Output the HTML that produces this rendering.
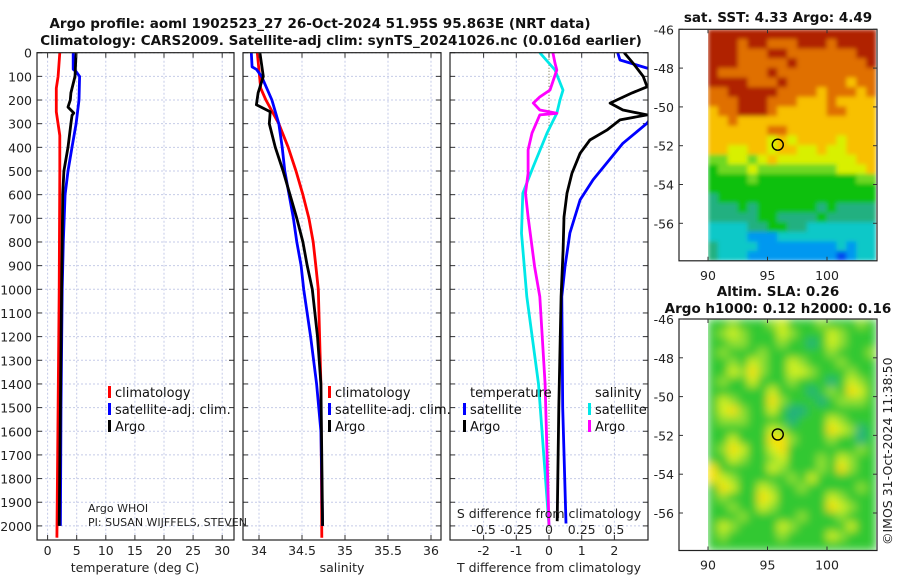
<!DOCTYPE html>
<html><head><meta charset="utf-8"><style>
body{margin:0;background:#fff}
svg{display:block;font-family:"DejaVu Sans","Liberation Sans",sans-serif}
.t{font-size:12.5px;fill:#222}
.b{font-weight:bold;font-size:13.5px;fill:#111}
.lg{font-size:13px;fill:#111}
</style></head><body>
<svg id="fig" width="900" height="580" viewBox="0 0 900 580" xmlns="http://www.w3.org/2000/svg">
<defs>
<filter id="blurS" x="0" y="0" width="1" height="1"><feGaussianBlur stdDeviation="2" edgeMode="duplicate"/></filter>
<filter id="blurL" x="0" y="0" width="1" height="1"><feGaussianBlur stdDeviation="4.5" edgeMode="duplicate"/></filter>
</defs>
<text class="b" x="320" y="28" text-anchor="middle">Argo profile: aoml 1902523_27 26-Oct-2024 51.95S 95.863E (NRT data)</text>
<text class="b" x="341" y="45" text-anchor="middle">Climatology: CARS2009. Satellite-adj clim: synTS_20241026.nc (0.016d earlier)</text>
<g id="plots"></g>
<text class="b" x="778" y="22" text-anchor="middle">sat. SST: 4.33 Argo: 4.49</text>
<text class="b" x="778" y="296" text-anchor="middle">Altim. SLA: 0.26</text>
<text class="b" x="778" y="313" text-anchor="middle">Argo h1000: 0.12 h2000: 0.16</text>
<text class="t" transform="translate(892,545) rotate(-90)">©IMOS 31-Oct-2024 11:38:50</text>
</svg>
<script>
// ---- data ----
const depthTicks=[0,100,200,300,400,500,600,700,800,900,1000,1100,1200,1300,1400,1500,1600,1700,1800,1900,2000];
const tempTicks=[0,5,10,15,20,25,30];
const salTicks=[34,34.5,35,35.5,36];
const tdiffTicks=[-2,-1,0,1,2];
const sdiffTicks=[-0.5,-0.25,0,0.25,0.5];
const sdiffTickLabels=["-0.5","-0.25","0","0.25","0.5"];

const tArgoD=[0,100,170,200,230,255,265,300,400,500,600,800,1000,1500,2000];
const tArgoV=[4.9,4.7,4.0,3.9,3.5,4.5,4.2,4.0,3.5,2.8,2.6,2.5,2.4,2.2,2.0];
const tSatD=[0,70,80,100,200,300,400,500,600,800,1000,1500,2000];
const tSatV=[4.4,4.4,4.9,5.5,5.4,4.9,4.2,3.5,3.0,2.7,2.5,2.3,2.2];
const tClimD=[0,100,150,250,350,500,1000,1500,2050];
const tClimV=[2.1,1.8,1.5,1.5,2.1,2.1,2.0,1.8,1.6];

const sArgoD=[0,100,170,220,250,300,400,500,600,700,800,900,1000,1200,1400,2000];
const sArgoV=[34.01,34.05,33.99,33.97,34.13,34.12,34.19,34.28,34.36,34.44,34.51,34.56,34.62,34.68,34.72,34.74];
const sSatD=[0,60,70,100,200,300,400,500,600,700,800,900,1000,1200,1400,1600,2000];
const sSatV=[33.91,33.92,33.97,34.03,34.15,34.23,34.27,34.30,34.35,34.40,34.44,34.49,34.52,34.60,34.67,34.72,34.74];
const sClimD=[0,150,200,300,400,500,600,700,800,900,1000,1400,2050];
const sClimV=[33.98,34.02,34.08,34.23,34.34,34.43,34.51,34.58,34.63,34.66,34.69,34.72,34.73];

const dtArgoD=[0,44,100,144,170,213,242,263,284,327,369,425,510,594,694,834,1031,1500,1980];
const dtArgoV=[2.3,2.57,2.88,3.0,2.54,1.87,2.26,3.0,2.17,1.77,1.25,0.95,0.70,0.55,0.46,0.43,0.37,0.30,0.25];
const dtSatD=[0,31,65,100,298,383,537,622,762,904,1031,1500,1990];
const dtSatV=[2.1,2.17,3.0,4.0,3.0,2.26,1.35,0.95,0.64,0.49,0.39,0.42,0.52];
const dsSatD=[0,73,158,200,256,340,481,594,763,1031,1400,2000];
const dsSatV=[-0.07,0.046,0.107,0.084,0.06,-0.015,-0.12,-0.2,-0.21,-0.17,-0.08,0.0];
const dsArgoD=[0,44,73,158,187,213,242,256,263,340,411,510,594,694,904,1031,1400,2000];
const dsArgoV=[0.03,0.046,0.06,0.008,-0.07,-0.12,-0.07,0.06,-0.07,-0.13,-0.16,-0.16,-0.18,-0.16,-0.11,-0.07,-0.03,0.0];

const lonTicks=[90,95,100];
const latTicks=[-46,-48,-50,-52,-54,-56];
const argoLon=95.863, argoLat=-51.95;
const sstGrid=[
"99999999999999999","99989988899989999","99988899888888899","99988888988888889",
"98888898888888888","99998889888888788","88999998888788878","88899988877787777",
"78899987777788777","77877777777777777","77777788777777777","77777767677776777",
"77667767766766777","55665676666666677","45556555555556667","44445444444444455",
"44444444444444444","34444444444444444","33343444444343333","33333443333433333",
"22223344332222222","22221112222222222","32222111111112122","32221111111110122"];
const slaGrid=[
"44544456444544454","45654446544465444","44554445443465444","45444544444454445",
"44546544654445444","44657544665444544","45446444544434654","44444464443454764",
"46544475444345554","46754464334444444","45554444344465444","44444465444476534",
"44644477544454434","45764467444444454","44654456444546544","74444465444547544",
"76544444546444444","47644654454444454","45444764444465444","44544654444476544",
"44454444454445444","46544446544444644","45444445444465444","44444444444444444"];

// ---- drawing ----
const NS="http://www.w3.org/2000/svg";
const root=document.getElementById('plots');
function mk(tag,attrs,parent){const e=document.createElementNS(NS,tag);for(const k in attrs)e.setAttribute(k,attrs[k]);(parent||root).appendChild(e);return e;}
const Y0=52.7, YS=0.2366, YB=540;
const yD=d=>Y0+d*YS;
const panels=[{x0:37,x1:234},{x0:243,x1:441},{x0:450,x1:648}];
const xT=v=>47.6+v*5.82;
const xS=v=>259+(v-34)*86;
const xDT=v=>549+v*32.7;
const xDS=v=>549+v*130.8;

function grid(p,xs,i){
  xs.forEach(x=>{const l=mk('line',{x1:x,x2:x,y1:Y0,y2:YB,stroke:'#c5cbe8','stroke-width':1,'stroke-dasharray':'2,2'});
  });
  depthTicks.forEach(d=>{const y=yD(d);const l=mk('line',{x1:p.x0,x2:p.x1,y1:y,y2:y,stroke:'#c5cbe8','stroke-width':1,'stroke-dasharray':'2,2'});
  
  mk('line',{x1:p.x0,x2:p.x0+5,y1:y,y2:y,stroke:'#333'});mk('line',{x1:p.x1-5,x2:p.x1,y1:y,y2:y,stroke:'#333'});});
  const cp=mk('clipPath',{id:'cp'+i});mk('rect',{x:p.x0,y:Y0,width:p.x1-p.x0,height:YB-Y0},cp);
}
function frame(p,name){const r=mk('rect',{x:p.x0,y:Y0,width:p.x1-p.x0,height:YB-Y0,fill:'none',stroke:'#222','stroke-width':1.2});
  }
function line(D,V,fx,col,i,name){const pts=D.map((d,k)=>fx(V[k]).toFixed(1)+','+yD(d).toFixed(1)).join(' ');
  const l=mk('polyline',{points:pts,fill:'none',stroke:col,'stroke-width':2.8,'stroke-linejoin':'round','clip-path':'url(#cp'+i+')'});
  }
function text(x,y,s,cls,anchor,name){const t=mk('text',{x:x,y:y,class:cls,'text-anchor':anchor||'start'});t.textContent=s;
  return t;}
function xticks(p,vals,fx,labels,y,name){vals.forEach((v,k)=>{const x=fx(v);mk('line',{x1:x,x2:x,y1:YB,y2:YB-5,stroke:'#333'});mk('line',{x1:x,x2:x,y1:Y0,y2:Y0+5,stroke:'#333'});
  text(x,y,labels?labels[k]:String(v),'t','middle',name);});}
function legendItem(x,y,col,label,name){const r=mk('rect',{x:x,y:y-11,width:3,height:12,fill:col});
  
  text(x+7,y,label,'lg','start',name);}

// Panel 1 temperature
grid(panels[0],tempTicks.map(xT),0);
line(tClimD,tClimV,xT,'#ff0000',0,'temp-climatology-line');
line(tSatD,tSatV,xT,'#0000ff',0,'temp-satellite-line');
line(tArgoD,tArgoV,xT,'#000000',0,'temp-argo-line');
frame(panels[0],'temperature-axes');
xticks(panels[0],tempTicks,xT,null,555,'temp-tick-label');
text(135,572,'temperature (deg C)','t','middle','temp-axis-title');
depthTicks.forEach(d=>text(32,yD(d)+5,String(d),'t','end','depth-tick-label'));
legendItem(108,397,'#ff0000','climatology','legend-climatology');
legendItem(108,414,'#0000ff','satellite-adj. clim.','legend-satellite-adj');
legendItem(108,431,'#000000','Argo','legend-argo');
text(88,512,'Argo WHOI','t','start','argo-institution').setAttribute('style','font-size:11px');
text(88,526,'PI: SUSAN WIJFFELS, STEVEN','t','start','pi-names').setAttribute('style','font-size:11px');

// Panel 2 salinity
grid(panels[1],salTicks.map(xS),1);
line(sClimD,sClimV,xS,'#ff0000',1,'sal-climatology-line');
line(sSatD,sSatV,xS,'#0000ff',1,'sal-satellite-line');
line(sArgoD,sArgoV,xS,'#000000',1,'sal-argo-line');
frame(panels[1],'salinity-axes');
xticks(panels[1],salTicks,xS,null,555,'sal-tick-label');
text(342,572,'salinity','t','middle','sal-axis-title');
legendItem(328,397,'#ff0000','climatology','legend-sal-climatology');
legendItem(328,414,'#0000ff','satellite-adj. clim.','legend-sal-satellite-adj');
legendItem(328,431,'#000000','Argo','legend-sal-argo');

// Panel 3 differences
grid(panels[2],tdiffTicks.filter(v=>v!==0).map(xDT),2);
const z=mk('line',{x1:549,x2:549,y1:Y0,y2:YB,stroke:'#6b6b3a','stroke-width':1,'stroke-dasharray':'1,2'});

line(dsSatD,dsSatV,xDS,'#00e8e8',2,'sdiff-satellite-line');
line(dsArgoD,dsArgoV,xDS,'#ff00ff',2,'sdiff-argo-line');
line(dtSatD,dtSatV,xDT,'#0000ff',2,'tdiff-satellite-line');
line(dtArgoD,dtArgoV,xDT,'#000000',2,'tdiff-argo-line');
frame(panels[2],'difference-axes');
xticks(panels[2],tdiffTicks,xDT,null,555,'tdiff-tick-label');
text(549,572,'T difference from climatology','t','middle','tdiff-axis-title');
text(549,518,'S difference from climatology','t','middle','sdiff-axis-title');
sdiffTicks.forEach((v,k)=>text(xDS(v),534,sdiffTickLabels[k],'t','middle','sdiff-tick-label'));
text(470,397,'temperature','lg','start','legend-temperature-header');
text(595,397,'salinity','lg','start','legend-salinity-header');
legendItem(463,414,'#0000ff','satellite','legend-tdiff-satellite');
legendItem(463,431,'#000000','Argo','legend-tdiff-argo');
legendItem(588,414,'#00e8e8','satellite','legend-sdiff-satellite');
legendItem(588,431,'#ff00ff','Argo','legend-sdiff-argo');

// Maps
const levelColorsSST=['#0048f0','#0098f0','#10c8c8','#20b080','#10c010','#70d820','#d8f000','#f8c000','#e07000','#b02000'];
const levelColorsSLA=['#0048f0','#0098f0','#20c8c8','#20b080','#30c830','#90e030','#d0f020','#f8e000','#ffa000','#c02000'];
let mapIdx=0;
function drawMap(top,grid,cols,name,filt){
  const L=679,R=877,B=top+231.5;
  const xL=lon=>708+(lon-90)*11.9;
  const yL=lat=>top+(-46-lat)*19.4;
  const nr=grid.length,nc=grid[0].length,x0=708,x1=876,cw=(x1-x0)/nc,ch=(B-top)/nr;
  mapIdx++;
  const cp=mk('clipPath',{id:'mc'+mapIdx});mk('rect',{x:x0,y:top,width:x1-x0,height:B-top},cp);
  const outer=mk('g',{'clip-path':'url(#mc'+mapIdx+')'});
  
  const g=mk('g',{filter:'url(#'+filt+')'},outer);
  grid.forEach((row,r)=>{for(let c=0;c<nc;c++){const cell=mk('rect',{x:(x0+c*cw).toFixed(2),y:(top+r*ch).toFixed(2),width:(cw+0.4).toFixed(2),height:(ch+0.4).toFixed(2),fill:cols[+row[c]]},g);
    }});
  const fr=mk('rect',{x:L,y:top,width:R-L,height:B-top,fill:'none',stroke:'#222','stroke-width':1.2});
  
  lonTicks.forEach(v=>{const x=xL(v);mk('line',{x1:x,x2:x,y1:B,y2:B-4,stroke:'#333'});mk('line',{x1:x,x2:x,y1:top,y2:top+4,stroke:'#333'});text(x,B+19,String(v),'t','middle','lon-tick-label');});
  latTicks.forEach(v=>{const y=yL(v);mk('line',{x1:L,x2:L+4,y1:y,y2:y,stroke:'#333'});mk('line',{x1:R-4,x2:R,y1:y,y2:y,stroke:'#333'});text(674,y+5,String(v),'t','end','lat-tick-label');});
  const c=mk('circle',{cx:xL(argoLon),cy:yL(argoLat),r:5.5,fill:'none',stroke:'#000','stroke-width':1.4});
  
}
drawMap(29.3,sstGrid,levelColorsSST,'sst-map','blurS');
drawMap(319,slaGrid,levelColorsSLA,'sla-map','blurL');
</script>
</body></html>
